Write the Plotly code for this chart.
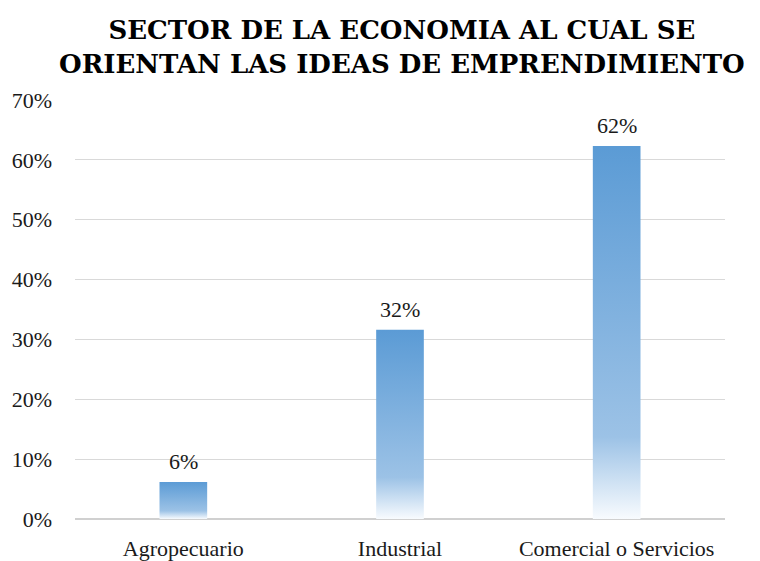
import plotly.graph_objects as go

categories = ["Agropecuario", "Industrial", "Comercial o Servicios"]
values = [0.062, 0.316, 0.623]
y_ticks = [0, 0.1, 0.2, 0.3, 0.4, 0.5, 0.6, 0.7]
y_ticktext = ["0%", "10%", "20%", "30%", "40%", "50%", "60%", "70%"]

BAR_HALF = 0.11
FONT = "Liberation Serif"

fig = go.Figure()
for i, v in enumerate(values):
    xs = [i - BAR_HALF, i + BAR_HALF, i + BAR_HALF, i - BAR_HALF, i - BAR_HALF]
    ys = [0, 0, v, v, 0]
    fig.add_trace(go.Scatter(
        x=xs, y=ys, mode="lines", fill="toself",
        line=dict(width=0, color="rgba(0,0,0,0)"),
        fillgradient=dict(
            type="vertical", start=0, stop=v,
            colorscale=[[0, "#f8fbfe"], [0.22, "#9cc2e6"], [1, "#5b9bd5"]],
        ),
        hoverinfo="skip", showlegend=False,
    ))

for i, v in enumerate(values):
    fig.add_annotation(
        x=i, y=v, xref="x", yref="y", text=f"{v:.0%}", showarrow=False,
        yanchor="bottom", yshift=6,
        font=dict(family=FONT, size=22, color="#1a1a1a"),
    )

title_lines = ["SECTOR DE LA ECONOMIA AL CUAL SE", "ORIENTAN LAS IDEAS DE EMPRENDIMIENTO"]
fig.add_annotation(
    xref="paper", yref="paper", x=0.503, y=1.127, xanchor="center", yanchor="middle",
    text="<b>" + "<br>".join(title_lines) + "</b>",
    showarrow=False,
    font=dict(family="DejaVu Serif", size=26, color="#000000"),
)

fig.update_layout(
    width=760, height=561,
    margin=dict(l=67, r=43, t=92, b=50),
    paper_bgcolor="white", plot_bgcolor="white",
    font=dict(family=FONT, size=22, color="#1a1a1a"),
    xaxis=dict(
        range=[-0.5, 2.5], tickvals=list(range(len(categories))), ticktext=categories,
        showgrid=False, zeroline=False, showline=False, ticks="",
        ticklabelstandoff=14, automargin=False,
        tickfont=dict(family=FONT, size=22, color="#1a1a1a"),
        fixedrange=True,
    ),
    yaxis=dict(
        range=[0, 0.7], tickvals=y_ticks, ticktext=y_ticktext,
        showgrid=True, gridcolor="#d9d9d9", gridwidth=1,
        zeroline=True, zerolinecolor="#d0d0d0", zerolinewidth=1.5,
        showline=False, ticks="", ticklabelstandoff=22, automargin=False,
        tickfont=dict(family=FONT, size=22, color="#1a1a1a"),
        fixedrange=True,
    ),
)

fig.write_html("out.html")
